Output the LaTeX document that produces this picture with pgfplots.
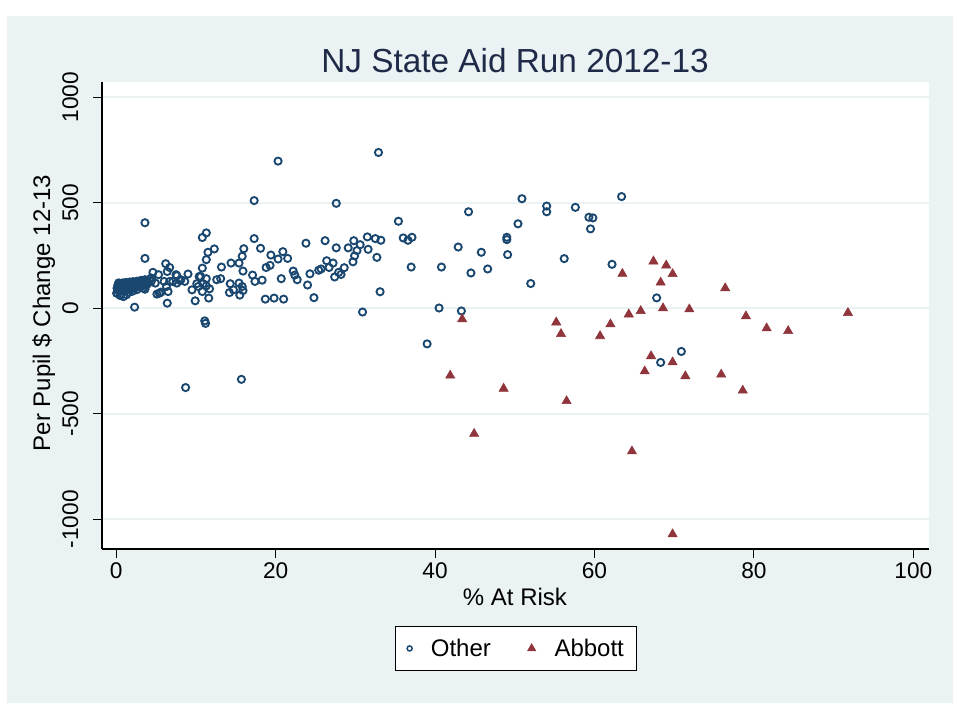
\documentclass[border=0pt]{standalone}
\usepackage{pgfplots}
\pgfplotsset{compat=1.18}
\usepackage{fontspec}
\setmainfont{Liberation Sans}

\definecolor{stbg}{RGB}{234,242,243}
\definecolor{stgrid}{RGB}{234,242,243}
\definecolor{stnavy}{RGB}{26,71,111}
\definecolor{stmaroon}{RGB}{144,53,59}
\definecolor{sttitle}{RGB}{30,42,72}

\begin{document}
\begin{tikzpicture}
% page and outer graph region
\path[fill=white] (0,0) rectangle (720pt,540pt);
\path[fill=stbg] (5.25pt,12.75pt) rectangle (714.75pt,528pt);

\begin{axis}[
  at={(76.5pt,128.25pt)}, anchor=south west,
  scale only axis, width=620.25pt, height=350.25pt,
  xmin=-1.79, xmax=101.97, ymin=-1141, ymax=1072,
  axis background/.style={fill=white},
  axis x line*=bottom, axis y line*=left,
  axis line style={-, black, line width=0.8pt},
  tick align=outside, major tick length=6.75pt,
  tick style={black, line width=0.8pt},
  xtick={0,20,40,60,80,100}, xticklabels={0,20,40,60,80,100},
  ytick={-1000,-500,0,500,1000}, yticklabels={-1000,-500,0,500,1000},
  ymajorgrids, grid style={stgrid, line width=1.5pt},
  ticklabel style={font=\fontsize{17}{17}\selectfont, inner sep=0pt},
  xticklabel style={anchor=north, yshift=-3pt},
  yticklabel style={rotate=90, anchor=base, yshift=11.25pt},
  legend columns=2,
  legend style={at={(axis description cs:0.5,-0.213)}, anchor=center,
    draw=black, line width=0.6pt, fill=white,
    font=\fontsize{18}{18}\selectfont,
    nodes={inner xsep=0pt},
    inner xsep=9pt, inner ysep=7.5pt},
  legend image code/.code={\draw[#1] plot coordinates {(8pt,0pt)};},
  /tikz/every odd column/.append style={column sep=14pt},
  /tikz/every even column/.append style={column sep=27.5pt},
]
\addplot[only marks, mark=o, mark size=2.7pt, draw=stnavy, line width=1.4pt,
  legend image post style={mark size=1.9pt, line width=1.1pt}]
table {
x y
3.6 405
20.3 697
32.9 738
17.3 510
27.6 497
50.9 519
63.4 529
54.0 484
54.0 457
57.6 478
59.3 431
59.8 428
59.5 376
44.2 457
50.4 400
35.4 412
36.0 333
36.6 322
37.1 336
42.9 290
45.8 265
49.0 336
49.0 325
49.1 254
46.6 186
44.5 167
37.0 195
40.8 195
56.2 235
62.2 208
52.0 117
40.5 1
43.3 -13
39.0 -169
67.8 49
70.9 -205
68.3 -257
26.2 320
27.6 286
29.1 286
29.8 320
30.6 301
31.5 338
32.5 330
33.2 322
31.6 279
32.7 241
30.2 273
29.9 248
29.7 220
26.4 225
27.2 214
26.7 193
25.7 186
28.6 192
27.9 170
28.2 160
27.4 148
33.1 78
30.9 -18
17.3 330
18.1 284
19.4 252
20.9 268
20.3 233
21.5 236
18.8 193
19.3 203
17.1 157
17.4 127
18.3 133
20.7 140
22.2 176
22.4 157
22.7 135
23.8 308
24.3 163
24.0 110
25.4 180
18.7 43
19.8 48
21.0 43
24.8 50
11.3 357
10.8 335
12.3 281
11.5 265
11.3 230
16.0 282
15.8 246
15.4 214
14.4 214
15.9 176
13.2 195
10.8 190
10.6 150
11.3 140
12.6 135
13.1 140
11.7 92
10.9 116
10.8 79
14.3 116
14.2 74
14.7 87
15.4 119
15.8 103
15.9 84
15.5 62
11.6 48
11.1 -60
11.2 -72
3.6 236
6.2 211
6.7 193
6.4 174
4.6 170
5.3 159
7.5 159
9.0 162
3.6 90
5.1 67
5.6 76
6.5 79
6.4 24
2.3 5
9.9 35
8.1 135
8.6 127
9.5 87
10.3 103
6.0 127
7.1 127
4.9 119
4.4 143
8.7 -376
15.7 -337
0.05 71
0.9 55
5.4 71
7.6 154
8.0 131
10.4 150
11.3 106
6.3 103
7.6 119
10.1 116
6.7 127
0.1 72
0.1 95
0.2 110
0.2 85
0.3 120
0.3 100
0.4 78
0.4 105
0.5 115
0.5 90
0.6 68
0.6 100
0.7 112
0.7 88
0.8 120
0.8 96
0.9 105
1.0 80
1.0 115
1.1 100
1.1 92
1.2 122
1.2 108
1.3 86
1.4 112
1.4 100
1.5 118
1.5 95
1.6 106
1.7 124
1.7 90
1.8 112
1.9 100
1.9 120
2.0 108
2.1 126
2.1 96
2.2 115
2.3 104
2.4 122
2.5 112
2.5 98
2.6 128
2.7 108
2.8 118
2.9 102
3.0 126
3.0 112
3.1 132
3.2 118
3.3 106
3.4 128
3.5 115
3.6 135
3.7 122
3.8 110
3.9 130
4.0 120
4.2 138
4.4 128
1.3 64
2.0 80
0.5 60
1.6 76
2.6 88
3.4 96
};
\addlegendentry{Other}
\addplot[only marks, mark=triangle*, mark size=4pt, draw=stmaroon, fill=stmaroon, line width=0.4pt,
  legend image post style={mark size=3.6pt}]
table {
x y
67.4 222
69.0 203
69.8 162
63.5 163
68.3 122
76.4 95
68.6 0
71.9 -5
65.8 -13
64.3 -29
91.8 -22
79.0 -38
62.0 -76
81.6 -95
84.3 -108
60.7 -132
67.1 -227
69.8 -256
66.3 -299
71.4 -322
75.9 -314
78.6 -390
64.7 -678
69.8 -1071
43.4 -52
55.2 -67
55.8 -122
41.9 -319
48.6 -381
56.5 -440
44.9 -595
};
\addlegendentry{Abbott}
\end{axis}

% title and axis titles
\node[anchor=base, text=sttitle, font=\fontsize{25}{25}\selectfont] at (386.25pt,485.25pt) {NJ State Aid Run 2012-13};
\node[anchor=base, font=\fontsize{18}{18}\selectfont] at (386.25pt,85.5pt) {\% At Risk};
\node[anchor=base, rotate=90, font=\fontsize{18}{18}\selectfont] at (37.5pt,305.25pt) {Per Pupil \$ Change 12-13};
\end{tikzpicture}
\end{document}
